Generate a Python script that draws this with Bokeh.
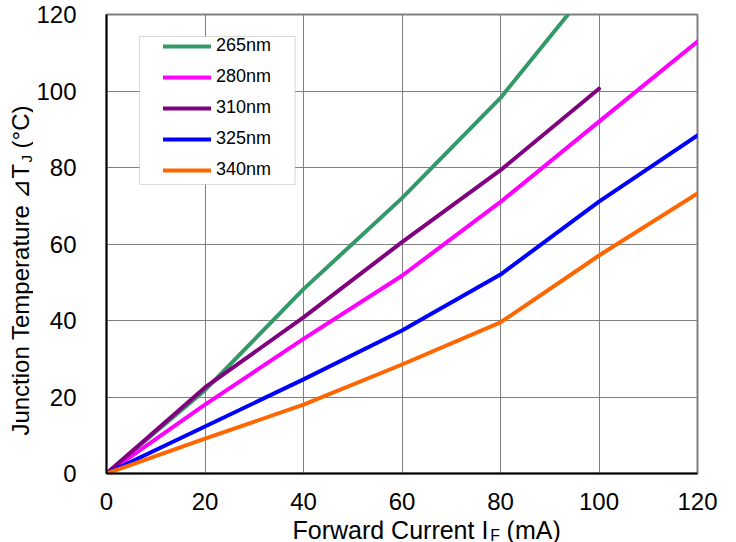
from math import pi
from bokeh.plotting import figure
from bokeh.layouts import row, column
from bokeh.models import (Range1d, FixedTicker, Label, Legend, LegendItem,
                          BoxAnnotation)
from bokeh.embed import file_html
from bokeh.resources import INLINE

# ---- data ----
current = [0, 20, 40, 60, 80, 100, 120]
t265 = [0, 21.8, 48.2, 72.0, 98.2, 130.0]
t280 = [0, 18.0, 35.2, 51.7, 71.0, 92.0, 112.9]
t310 = [0, 22.5, 40.8, 60.5, 79.3, 100.6]
t325 = [0, 12.3, 24.6, 37.4, 52.0, 71.1, 88.4]
t340 = [0, 9.1, 18.0, 28.5, 39.5, 57.0, 73.2]
series_names = ["265nm", "280nm", "310nm", "325nm", "340nm"]
series_vals = [t265, t280, t310, t325, t340]
series_colors = ["#339966", "#FF00FF", "#800080", "#0000FF", "#FF6600"]
tick_vals = [0, 20, 40, 60, 80, 100, 120]

x_title = "Forward Current I"
x_sub = "F"
x_unit = "(mA)"
y_title = "Junction Temperature \u22bfT"
y_sub = "J"
y_unit = "(\u00b0C)"

FONT = "Liberation Sans"
HAS_FA = "frame_align" in figure.properties()

# ---------------- main chart ----------------
p = figure(width=703, height=520, output_backend="svg", toolbar_location=None,
           x_range=Range1d(0, 120), y_range=Range1d(0, 120),
           min_border_left=72, min_border_right=39, min_border_top=14,
           min_border_bottom=47)
p.background_fill_color = "white"
p.border_fill_color = "white"
p.outline_line_color = "#808080"
p.outline_line_width = 2

for ax in (p.xaxis[0], p.yaxis[0]):
    ax.ticker = FixedTicker(ticks=tick_vals)
    ax.major_tick_out = 0
    ax.major_tick_in = 0
    ax.minor_tick_out = 0
    ax.minor_tick_in = 0
    ax.axis_line_color = "black"
    ax.axis_line_width = 2
    ax.major_label_text_font = FONT
    ax.major_label_text_font_size = "24px"
    ax.major_label_text_color = "black"
p.xaxis.major_label_standoff = 19
p.yaxis.major_label_standoff = 30

for g in (p.xgrid[0], p.ygrid[0]):
    g.ticker = FixedTicker(ticks=tick_vals)
    g.grid_line_color = "#808080"
    g.grid_line_width = 1

items = []
for name, vals, col in zip(series_names, series_vals, series_colors):
    r = p.line(current[:len(vals)], vals, line_color=col, line_width=4,
               line_cap="round", line_join="round")
    items.append(LegendItem(label=name, renderers=[r]))

# legend frame
box = BoxAnnotation(left=6.69, right=38.31, bottom=75.56, top=114.25,
                    fill_color="white", fill_alpha=1.0,
                    line_color="#808080", line_width=1)
p.add_layout(box)

legend = Legend(items=items, location=(53, 289), margin=0, padding=4,
                spacing=10, glyph_width=48, glyph_height=20, label_height=20,
                label_standoff=5, label_text_font=FONT,
                label_text_font_size="18px", label_text_color="black",
                background_fill_alpha=0, border_line_alpha=0)
p.add_layout(legend, "center")


def blank(width, height, xr, yr, bl, br, bt, bb):
    kw = dict(width=width, height=height, output_backend="svg",
              toolbar_location=None, x_range=xr, y_range=yr,
              x_axis_type=None, y_axis_type=None,
              min_border_left=bl, min_border_right=br,
              min_border_top=bt, min_border_bottom=bb)
    if HAS_FA:
        kw["frame_align"] = False
    f = figure(**kw)
    f.outline_line_color = None
    f.background_fill_color = "white"
    f.border_fill_color = "white"
    f.grid.visible = False
    return f


def lab(x, y, text, size, angle=0.0, align="left"):
    return Label(x=x, y=y, text=text, text_font=FONT, text_font_size=size,
                 angle=angle, text_align=align, text_baseline="middle",
                 text_color="black")


# ---------------- x axis title (shares the x scale of the chart) ----------
xl = blank(703, 22, p.x_range, Range1d(542, 520), 72, 39, 0, 0)
xl.add_layout(lab(37.9, 529.5, x_title, "25px"))
xl.add_layout(lab(78.0, 535.0, x_sub, "16px"))
xl.add_layout(lab(81.3, 529.5, x_unit, "25px"))

# ---------------- y axis title (shares the y scale of the chart) ----------
yl = blank(33, 542, Range1d(0, 33), p.y_range, 0, 0, 14, 69)
yl.add_layout(lab(19.8, 81.05, y_title, "24px", pi / 2, "right"))
yl.add_layout(lab(26.3, 81.3, y_sub, "15px", pi / 2))
yl.add_layout(lab(19.8, 85.0, y_unit, "24px", pi / 2))

layout = row(yl, column(p, xl, spacing=0), spacing=0)

open("out.html", "w").write(file_html(layout, INLINE))
